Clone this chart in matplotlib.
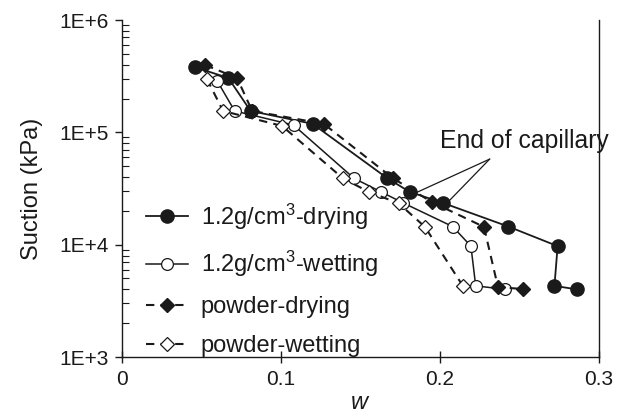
import numpy as np
import matplotlib
matplotlib.use("Agg")
import matplotlib.pyplot as plt
from matplotlib.ticker import FixedLocator, LogLocator, FuncFormatter, NullFormatter

plt.rcParams['font.family'] = ['Liberation Sans', 'DejaVu Sans']
plt.rcParams['mathtext.fontset'] = 'custom'
plt.rcParams['mathtext.rm'] = 'Liberation Sans'
plt.rcParams['mathtext.it'] = 'Liberation Sans:italic'

# ----------
# DATA: water content w vs suction (kPa)
# ----------
dry12_w = [0.046, 0.067, 0.081, 0.120, 0.167, 0.181, 0.202, 0.243, 0.274, 0.272, 0.286]
dry12_s = [380000, 305000, 155000, 119000, 39000, 29500, 23500, 14500, 9700, 4300, 4000]

wet12_w = [0.060, 0.071, 0.108, 0.146, 0.163, 0.177, 0.208, 0.2195, 0.2225, 0.241]
wet12_s = [287000, 155000, 116000, 39000, 29500, 23500, 14500, 9700, 4300, 4000]

pdry_w = [0.0525, 0.0725, 0.082, 0.127, 0.1705, 0.195, 0.2277, 0.2365, 0.252]
pdry_s = [397000, 305000, 155000, 119000, 39000, 23900, 14400, 4190, 4030]

pwet_w = [0.0536, 0.0637, 0.1008, 0.139, 0.1555, 0.174, 0.1906, 0.2145]
pwet_s = [298000, 155000, 114000, 39000, 29400, 23400, 14400, 4280]

labels = ['1.2g/cm$^\\mathrm{3}$-drying', '1.2g/cm$^\\mathrm{3}$-wetting',
          'powder-drying', 'powder-wetting']

ink = '#1a1a1a'

fig = plt.figure(figsize=(6.42, 4.18), dpi=100)
ax = fig.add_axes([121.7 / 642, (418 - 357) / 418, (599 - 121.7) / 642, (357 - 20) / 418])

dash = (0, (4, 3))
ax.plot(dry12_w, dry12_s, '-', color=ink, lw=1.3, marker='o', ms=9.5,
        mfc=ink, mec=ink, label=labels[0])
ax.plot(wet12_w, wet12_s, '-', color=ink, lw=1.1, marker='o', ms=8.5,
        mfc='white', mec=ink, mew=0.9, label=labels[1])
ax.plot(pdry_w, pdry_s, linestyle=dash, color=ink, lw=1.5, marker='D', ms=7.5,
        mfc=ink, mec=ink, label=labels[2])
ax.plot(pwet_w, pwet_s, linestyle=dash, color=ink, lw=1.5, marker='D', ms=7,
        mfc='white', mec=ink, mew=0.9, label=labels[3])

ax.set_xlim(0, 0.3)
ax.set_ylim(1e3, 1e6)
ax.set_yscale('log')

ax.xaxis.set_major_locator(FixedLocator([0, 0.1, 0.2, 0.3]))
ax.xaxis.set_major_formatter(FuncFormatter(lambda v, p: '0' if v == 0 else f'{v:.1f}'))
ax.yaxis.set_major_locator(FixedLocator([1e3, 1e4, 1e5, 1e6]))
ax.yaxis.set_major_formatter(FuncFormatter(lambda v, p: f'1E+{int(round(np.log10(v)))}'))
ax.yaxis.set_minor_locator(LogLocator(base=10, subs=np.arange(2, 10)))
ax.yaxis.set_minor_formatter(NullFormatter())

ax.spines['top'].set_visible(False)
for side in ('left', 'bottom', 'right'):
    ax.spines[side].set_linewidth(1.0)
    ax.spines[side].set_color(ink)

ax.tick_params(axis='x', which='major', direction='inout', length=9, width=1.0,
               labelsize=15, colors=ink, pad=5)
ax.tick_params(axis='y', which='major', direction='out', length=5, width=1.0,
               labelsize=15, colors=ink, pad=4)
ax.tick_params(axis='y', which='minor', direction='in', length=5, width=0.8, colors=ink)

ax.set_xlabel('$\\mathit{w}$', fontsize=17, color=ink, labelpad=2)
ax.set_ylabel('Suction (kPa)', fontsize=17, color=ink, labelpad=12)

# annotation lines pointing at the two end-of-capillary points
ax.annotate('End of capillary', xy=(0.181, 29500), xytext=(0.2, 83000),
            fontsize=17.8, color=ink, va='center', ha='left')
for tip in [(0.185, 29000), (0.2045, 23500)]:
    ax.annotate('', xy=tip, xytext=(0.2313, 57800),
                arrowprops=dict(arrowstyle='-', color=ink, lw=0.9, shrinkA=0, shrinkB=0))

leg = ax.legend(loc='lower left', bbox_to_anchor=(0.017, -0.049), frameon=False,
                fontsize=17, handlelength=1.75, handletextpad=0.55, labelspacing=0.72,
                borderpad=0.2)
for t in leg.get_texts():
    t.set_color(ink)

fig.savefig('out.png', dpi=100)
